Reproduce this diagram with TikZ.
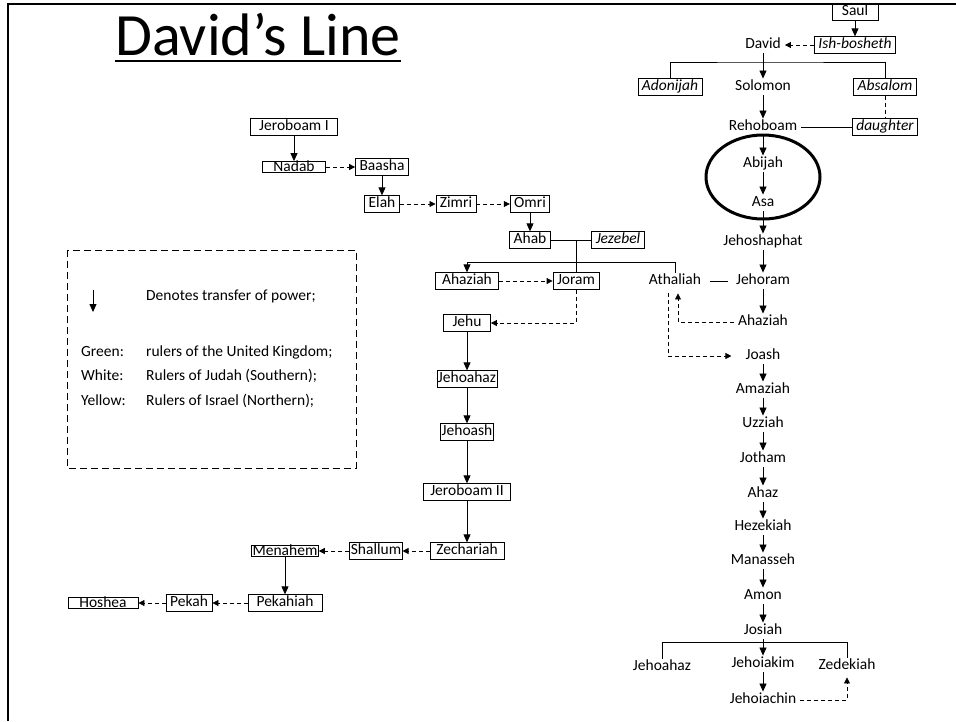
\documentclass[tikz,border=0pt]{standalone}
\usepackage{fontspec}
\setmainfont{Carlito}
\usetikzlibrary{arrows.meta}

\begin{document}
\begin{tikzpicture}[x=1pt,y=-1pt,
    king/.style={font=\fontsize{15.5}{18}\selectfont,text height=11pt,text depth=3.5pt,inner xsep=4pt,inner ysep=1pt},
    box/.style={king,draw,line width=0.8pt},
    flat/.style={text height=9.5pt,text depth=1.5pt,inner ysep=0pt},
    other/.style={box,font=\fontsize{15.5}{18}\selectfont\itshape},
    legend/.style={font=\fontsize{15.5}{18}\selectfont,text height=11pt,text depth=3.5pt,anchor=west,inner sep=0pt},
    succ/.style={line width=0.8pt,-{Triangle[length=8pt,width=7pt]}},
    usurp/.style={line width=0.8pt,dash pattern=on 4pt off 3pt,-{Triangle[length=6pt,width=6pt]}},
    link/.style={line width=0.8pt}]
\useasboundingbox (0,0) rectangle (956,721);

\draw[line width=2pt] (8,721) -- (8,4) -- (956,4);
\node[anchor=base west,inner sep=0pt,font=\fontsize{60}{70}\selectfont] (title) at (115,55) {David’s Line};
\draw[line width=2.5pt] ([yshift=-6pt]title.base west) -- ([yshift=-6pt]title.base east);

\draw[line width=0.8pt,dash pattern=on 7pt off 4pt] (67,250) rectangle (356,468);
\draw[succ] (93,290) -- (93,312);
\node[legend] (denotes) at (146,297) {Denotes transfer of power;};
\node[legend] (green) at (81,353) {Green:};
\node[legend] (greentext) at (146,353) {rulers of the United Kingdom;};
\node[legend] (white) at (81,377) {White:};
\node[legend] (whitetext) at (146,377) {Rulers of Judah (Southern);};
\node[legend] (yellow) at (81,402) {Yellow:};
\node[legend] (yellowtext) at (146,402) {Rulers of Israel (Northern);};

\node[box,minimum width=46pt] (saul) at (855,12) {Saul};
\node[other] (ishbosheth) at (855,45) {Ish-bosheth};
\node[king] (david) at (763,45) {David};
\node[other] (adonijah) at (670,87) {Adonijah};
\node[king] (solomon) at (763,87) {Solomon};
\node[other] (absalom) at (885,87) {Absalom};
\node[king] (rehoboam) at (763,127) {Rehoboam};
\node[other] (daughter) at (885,127) {daughter};
\node[king] (abijah) at (763,164) {Abijah};
\node[king] (asa) at (763,203) {Asa};
\node[king] (jehoshaphat) at (763,242) {Jehoshaphat};
\node[king] (jehoram) at (763,281) {Jehoram};
\node[king] (athaliah) at (675,281) {Athaliah};
\node[king] (ahaziahJ) at (763,322) {Ahaziah};
\node[king] (joash) at (763,356) {Joash};
\node[king] (amaziah) at (763,390) {Amaziah};
\node[king] (uzziah) at (763,424) {Uzziah};
\node[king] (jotham) at (763,459) {Jotham};
\node[king] (ahaz) at (763,494) {Ahaz};
\node[king] (hezekiah) at (763,527) {Hezekiah};
\node[king] (manasseh) at (763,561) {Manasseh};
\node[king] (amon) at (763,596) {Amon};
\node[king] (josiah) at (763,631) {Josiah};
\node[king] (jehoahazJ) at (662,667) {Jehoahaz};
\node[king] (jehoiakim) at (763,664) {Jehoiakim};
\node[king] (zedekiah) at (847,666) {Zedekiah};
\node[king] (jehoiachin) at (763,700) {Jehoiachin};

\node[box,minimum width=87pt] (jeroboamI) at (294,127) {Jeroboam I};
\node[box,flat,minimum width=63pt] (nadab) at (294,167) {Nadab};
\node[box] (baasha) at (382,167) {Baasha};
\node[box] (elah) at (382,204) {Elah};
\node[box] (zimri) at (456,204) {Zimri};
\node[box] (omri) at (530,204) {Omri};
\node[box] (ahab) at (530,240) {Ahab};
\node[other] (jezebel) at (618,240) {Jezebel};
\node[box,minimum width=63pt] (ahaziahI) at (467,281) {Ahaziah};
\node[box] (joram) at (576,281) {Joram};
\node[box,minimum width=47pt] (jehu) at (467,323) {Jehu};
\node[box,inner xsep=1pt] (jehoahazI) at (467,379) {Jehoahaz};
\node[box,inner xsep=1pt] (jehoash) at (467,432) {Jehoash};
\node[box,minimum width=87pt] (jeroboamII) at (467,492) {Jeroboam II};
\node[box,minimum width=74pt] (zechariah) at (467,551) {Zechariah};
\node[box,inner xsep=1pt] (shallum) at (376,551) {Shallum};
\node[box,flat,inner xsep=1pt] (menahem) at (285,551) {Menahem};
\node[box,minimum width=74pt] (pekahiah) at (285,603) {Pekahiah};
\node[box,minimum width=46pt] (pekah) at (189,603) {Pekah};
\node[box,flat,minimum width=70pt] (hoshea) at (103,603) {Hoshea};

\coordinate (davidbar) at (763,62);
\coordinate (ahabwed) at (576,240);
\coordinate (ahabbar) at (576,262);
\coordinate (josiahbar) at (763,642);

\draw[succ] (saul) -- (ishbosheth);
\draw[usurp] (ishbosheth) -- (david);
\draw[link] (adonijah.north) |- (davidbar) -| (absalom.north);
\draw[succ] (david) -- (solomon);
\draw[succ] (solomon) -- (rehoboam);
\draw[link,dash pattern=on 4pt off 3pt] (absalom) -- (daughter);
\draw[link] (rehoboam) -- (daughter);
\draw[succ] (rehoboam) -- (abijah);
\draw[succ] (abijah) -- (asa);
\draw[line width=3pt] (763,177) ellipse (57 and 42);
\draw[succ] (asa) -- (jehoshaphat);
\draw[succ] (jehoshaphat) -- (jehoram);
\draw[link,shorten <=5pt,shorten >=4pt] (athaliah) -- (jehoram);
\draw[succ] (jehoram) -- (ahaziahJ);
\draw[usurp] (ahaziahJ.west) -| ([xshift=3pt,yshift=-4pt]athaliah.south);
\draw[usurp] ([xshift=-7pt,yshift=-4pt]athaliah.south) |- ([xshift=-10pt]joash.west);
\draw[succ] (joash) -- (amaziah);
\draw[succ] (amaziah) -- (uzziah);
\draw[succ] (uzziah) -- (jotham);
\draw[succ] (jotham) -- (ahaz);
\draw[succ] (ahaz) -- (hezekiah);
\draw[succ] (hezekiah) -- (manasseh);
\draw[succ] (manasseh) -- (amon);
\draw[succ] (amon) -- (josiah);
\draw[link] (jehoahazJ.north) |- (josiahbar) -| (zedekiah.north);
\draw[succ] (josiah) -- (jehoiakim);
\draw[succ] (jehoiakim) -- (jehoiachin);
\draw[usurp] (jehoiachin.east) -| ([yshift=-3pt]zedekiah.south);

\draw[succ] (jeroboamI) -- (nadab);
\draw[usurp] (nadab) -- (baasha);
\draw[succ] (baasha) -- (elah);
\draw[usurp] (elah) -- (zimri);
\draw[usurp] (zimri) -- (omri);
\draw[succ] (omri) -- (ahab);
\draw[link] (ahab) -- (jezebel);
\draw[link] (ahabwed) -- (joram.north);
\draw[succ] (ahabbar) -| (ahaziahI.north);
\draw[link] (ahabbar) -| (athaliah.north);
\draw[usurp] (ahaziahI) -- (joram);
\draw[usurp] (joram.south) |- (jehu.east);
\draw[succ] (jehu) -- (jehoahazI);
\draw[succ] (jehoahazI) -- (jehoash);
\draw[succ] (jehoash) -- (jeroboamII);
\draw[succ] (jeroboamII) -- (zechariah);
\draw[usurp] (zechariah) -- (shallum);
\draw[usurp] (shallum) -- (menahem);
\draw[succ] (menahem) -- (pekahiah);
\draw[usurp] (pekahiah) -- (pekah);
\draw[usurp] (pekah) -- (hoshea);
\end{tikzpicture}
\end{document}
